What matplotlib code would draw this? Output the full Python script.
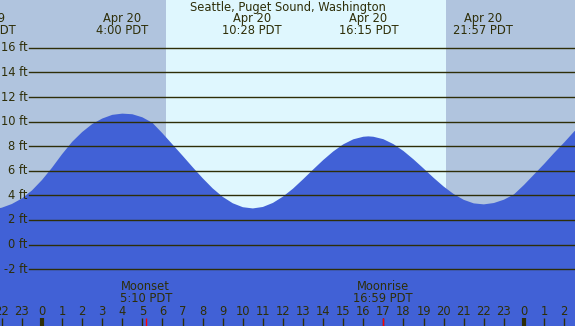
import matplotlib
matplotlib.use("Agg")
import matplotlib.pyplot as plt
import matplotlib.transforms as mtransforms

# tide height (ft), hours from Apr 20 00:00 PDT
hours = [-2.5, -2.0, -1.5, -1.0, -0.5, 0.0, 0.5, 1.0, 1.5, 2.0, 2.5, 3.0, 3.5, 4.0,
         4.5, 5.0, 5.5, 6.0, 6.5, 7.0, 7.5, 8.0, 8.5, 9.0, 9.5, 10.0, 10.5,
         11.0, 11.5, 12.0, 12.5, 13.0, 13.5, 14.0, 14.5, 15.0, 15.5, 16.0, 16.25,
         16.5, 17.0, 17.5, 18.0, 18.5, 19.0, 19.5, 20.0, 20.5, 21.0, 21.5, 22.0,
         22.5, 23.0, 23.5, 24.0, 24.5, 25.0, 25.5, 26.0, 26.5, 27.0]
heights = [2.85, 3.0, 3.3, 3.75, 4.4, 5.25, 6.25, 7.35, 8.35, 9.15, 9.8, 10.25, 10.55, 10.65,
           10.6, 10.35, 9.9, 9.05, 8.14, 7.23, 6.3, 5.4, 4.57, 3.88, 3.36, 3.04, 2.94,
           3.06, 3.39, 3.9, 4.55, 5.31, 6.1, 6.87, 7.57, 8.15, 8.56, 8.77, 8.8,
           8.77, 8.57, 8.17, 7.61, 6.93, 6.19, 5.43, 4.72, 4.11, 3.64, 3.35, 3.27,
           3.38, 3.65, 4.08, 4.85, 5.7, 6.55, 7.45, 8.3, 9.2, 9.9]

# high / low tide labels
event_hours = [-2.78, 4.0, 10.467, 16.25, 21.95]
event_dates = ["Apr 19", "Apr 20", "Apr 20", "Apr 20", "Apr 20"]
event_times = ["21:13 PDT", "4:00 PDT", "10:28 PDT", "16:15 PDT", "21:57 PDT"]

sunrise, sunset = 6.17, 20.12
moon_hours = [5.17, 16.98]
moon_names = ["Moonset", "Moonrise"]
moon_times = ["5:10 PDT", "16:59 PDT"]

grid_ft = [-2, 0, 2, 4, 6, 8, 10, 12, 14, 16]
hour_ticks = list(range(-2, 27))

night_col = "#b0c4de"
day_col = "#dff7fe"
water_col = "#4161d6"
ink = "#2e2e08"

xmin, xmax = -2.09, 26.54
ymin, ymax = -6.62, 19.89

fig = plt.figure(figsize=(5.75, 3.26), dpi=100)
ax = fig.add_axes([0, 0, 1, 1])
ax.set_xlim(xmin, xmax)
ax.set_ylim(ymin, ymax)
ax.axis("off")
trans = mtransforms.blended_transform_factory(ax.transData, ax.transAxes)

# night / day background
ax.axvspan(xmin, sunrise, color=night_col, lw=0, zorder=0)
ax.axvspan(sunrise, sunset, color=day_col, lw=0, zorder=0)
ax.axvspan(sunset, xmax, color=night_col, lw=0, zorder=0)

ax.fill_between(hours, heights, ymin, color=water_col, lw=0, zorder=1)

for g in grid_ft:
    ax.axhline(g, xmin=29 / 575, xmax=1, color=ink, lw=1.0, zorder=2)
    ax.text(-0.72, g, "%d ft" % g, ha="right", va="center", fontsize=8.3,
            color=ink, zorder=3)

ax.text(0.5, 0.978, "Seattle, Puget Sound, Washington", transform=ax.transAxes,
        ha="center", va="center", fontsize=8.3, color=ink, zorder=3)
for h, d, t in zip(event_hours, event_dates, event_times):
    ax.text(h, 0.942, d, transform=trans, ha="center", va="center",
            fontsize=8.3, color=ink, zorder=3)
    ax.text(h, 0.905, t, transform=trans, ha="center", va="center",
            fontsize=8.3, color=ink, zorder=3)

for h in hour_ticks:
    ax.text(h, 0.045, str(h % 24), transform=trans, ha="center", va="center",
            fontsize=8.3, color=ink, zorder=3)
    ax.plot([h, h], [0, 0.024], transform=trans, color=ink,
            lw=3 if h % 24 == 0 else 1.0, solid_capstyle="butt", zorder=3)

for h, n, t in zip(moon_hours, moon_names, moon_times):
    ax.text(h, 0.12, n, transform=trans, ha="center", va="center", fontsize=8.3,
            color=ink, zorder=3)
    ax.text(h, 0.083, t, transform=trans, ha="center", va="center", fontsize=8.3,
            color=ink, zorder=3)
    ax.plot([h, h], [0, 0.024], transform=trans, color="red", lw=1.0,
            solid_capstyle="butt", zorder=3)

fig.savefig("out.png", dpi=100)
